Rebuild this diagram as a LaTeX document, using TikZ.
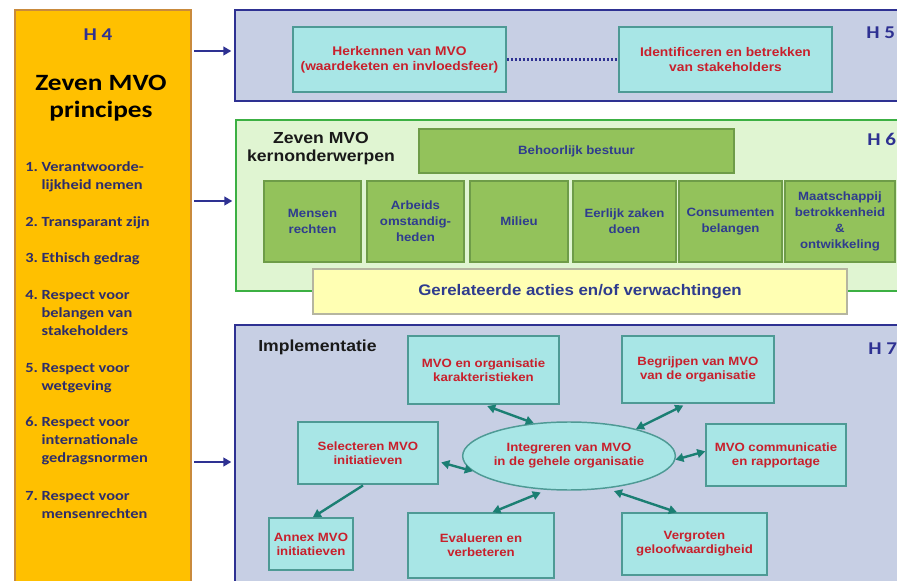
\documentclass[tikz,border=0pt]{standalone}
\usepackage{fontspec}
\setmainfont{Liberation Sans}[FakeStretch=1.1]
\newfontfamily\calfont{Carlito}[FakeStretch=1.17]
\usetikzlibrary{shapes.geometric,arrows.meta}

\definecolor{hfour}{HTML}{FFC000}
\definecolor{hfourline}{HTML}{C98A3C}
\definecolor{mvonavy}{HTML}{2E3192}
\definecolor{bluefill}{HTML}{C7CFE4}
\definecolor{greenfill}{HTML}{E0F5D2}
\definecolor{greenline}{HTML}{3CB043}
\definecolor{olivefill}{HTML}{93C25B}
\definecolor{oliveline}{HTML}{6E9C48}
\definecolor{cyanfill}{HTML}{A8E6E6}
\definecolor{cyanline}{HTML}{4E9A95}
\definecolor{redtxt}{HTML}{C8202C}
\definecolor{mvoteal}{HTML}{1B7F73}
\definecolor{yellowfill}{HTML}{FFFFB3}
\definecolor{yellowline}{HTML}{B5B5A0}
\definecolor{inktxt}{HTML}{2D2D6B}
\definecolor{bluetxt}{HTML}{2F3C8E}

\tikzset{
  chapterbox/.style={draw, line width=1.5pt, inner sep=0pt},
  pxsize/.style 2 args={minimum width=#1*0.75pt, minimum height=#2*0.75pt},
  cyanbox/.style={draw=cyanline, fill=cyanfill, line width=1.1pt, inner sep=0pt,
    align=center, text=redtxt, font=\bfseries\fontsize{9}{10.5}\selectfont},
  greenbox/.style={draw=oliveline, fill=olivefill, line width=1.1pt, inner sep=0pt,
    align=center, text=bluetxt, font=\bfseries\fontsize{9}{12}\selectfont},
  yellowbox/.style={draw=yellowline, fill=yellowfill, line width=1.1pt, inner sep=0pt,
    text=bluetxt, font=\bfseries\fontsize{11.5}{13}\selectfont},
  hlabel/.style={anchor=west, inner sep=0pt, text=mvonavy,
    font=\calfont\bfseries\fontsize{13.5}{15}\selectfont},
  heading/.style={align=center, inner sep=0pt, text=black!90,
    font=\bfseries\fontsize{12}{13.5}\selectfont},
  listitem/.style={anchor=north west, inner sep=0pt, text=inktxt,
    font=\calfont\bfseries\fontsize{10.5}{13.5}\selectfont},
  navyarrow/.style={draw=mvonavy, line width=1.8pt, >={Triangle[width=6.5pt,length=6pt]}, ->},
  linkarrow/.style={draw=mvoteal, line width=1.8pt, >={Triangle[width=6.5pt,length=6pt]}, <->},
  dotline/.style={draw=mvonavy, line width=2pt, dash pattern=on 1.6pt off 1.4pt}
}

\begin{document}
\begin{tikzpicture}[x=0.75pt,y=-0.75pt]
\clip (0,0) rectangle (897,581);

%% chapter frames
\node[chapterbox, draw=hfourline, line width=1.2pt, fill=hfour, pxsize={176}{600}] (h4) at (103,310) {};
\node[chapterbox, draw=mvonavy, fill=bluefill, pxsize={680}{91}] (h5) at (575,55.5) {};
\node[chapterbox, draw=greenline, fill=greenfill, pxsize={680}{171}] (h6) at (576,205.5) {};
\node[chapterbox, draw=mvonavy, fill=bluefill, pxsize={680}{285}] (h7) at (575,467.5) {};

%% chapter labels
\node[hlabel, anchor=center] (h4lab) at (98,35) {H 4};
\node[hlabel] (h5lab) at (866,33) {H 5};
\node[hlabel] (h6lab) at (867,139) {H 6};
\node[hlabel] (h7lab) at (868,349) {H 7};

%% H4: principes
\node[align=center, inner sep=0pt, font=\calfont\bfseries\fontsize{17.5}{20}\selectfont] (h4title) at (101,98) {Zeven MVO\\principes};
\node[listitem] (p1) at (25,159) {\begin{tabular}{@{}l@{\ }l@{}}1. & Verantwoorde-\\ & lijkheid nemen\end{tabular}};
\node[listitem] (p2) at (25,214) {\begin{tabular}{@{}l@{\ }l@{}}2. & Transparant zijn\end{tabular}};
\node[listitem] (p3) at (25,250) {\begin{tabular}{@{}l@{\ }l@{}}3. & Ethisch gedrag\end{tabular}};
\node[listitem] (p4) at (25,287) {\begin{tabular}{@{}l@{\ }l@{}}4. & Respect voor\\ & belangen van\\ & stakeholders\end{tabular}};
\node[listitem] (p5) at (25,360) {\begin{tabular}{@{}l@{\ }l@{}}5. & Respect voor\\ & wetgeving\end{tabular}};
\node[listitem] (p6) at (25,414) {\begin{tabular}{@{}l@{\ }l@{}}6. & Respect voor\\ & internationale\\ & gedragsnormen\end{tabular}};
\node[listitem] (p7) at (25,488) {\begin{tabular}{@{}l@{\ }l@{}}7. & Respect voor\\ & mensenrechten\end{tabular}};

%% arrows out of H4
\draw[navyarrow, shorten <=2pt, shorten >=2pt] (h4.east |- 0,51) -- (h5.west |- 0,51);
\draw[navyarrow, shorten <=2pt, shorten >=2pt] (h4.east |- 0,201) -- (h6.west |- 0,201);
\draw[navyarrow, shorten <=2pt, shorten >=2pt] (h4.east |- 0,462) -- (h7.west |- 0,462);

%% H5
\node[cyanbox, pxsize={213}{65}, font=\bfseries\fontsize{9.4}{11.25}\selectfont] (herk) at (399.5,59.5) {Herkennen van MVO\\(waardeketen en invloedsfeer)};
\node[cyanbox, pxsize={213}{65}, font=\bfseries\fontsize{9.4}{11.25}\selectfont] (ident) at (725.5,59.5) {Identificeren en betrekken\\van stakeholders};
\draw[dotline] (herk) -- (ident);

%% H6: kernonderwerpen
\node[heading] (kern) at (321,149) {Zeven MVO\\kernonderwerpen};
\node[greenbox, pxsize={315}{44}] (bestuur) at (576.5,151) {Behoorlijk bestuur};
\foreach \nm/\cx/\w/\txt in {mensen/312.5/97/{Mensen\\rechten},
    arbeid/415.5/97/{Arbeids\\omstandig-\\heden},
    milieu/519/98/{Milieu},
    eerlijk/624.5/103/{Eerlijk zaken\\doen},
    consument/730.5/103/{Consumenten\\belangen},
    maatsch/840/110/{Maatschappij\\betrokkenheid\\\&\\ontwikkeling}}
  \node[greenbox, pxsize={\w}{81}] (\nm) at (\cx,221.5) {\txt};
\node[yellowbox, pxsize={534}{45}] (acties) at (580,291.5) {Gerelateerde acties en/of verwachtingen};

%% H7: implementatie
\node[heading, anchor=west] (impl) at (258,347) {Implementatie};
\node[ellipse, draw=cyanline, fill=cyanfill, line width=1.1pt, inner sep=0pt, pxsize={190}{68},
  align=center, text=redtxt, font=\bfseries\fontsize{9}{10.5}\selectfont] (integr) at (569,456) {Integreren van MVO\\in de gehele organisatie};
\node[cyanbox, pxsize={151}{68}] (mvoorg) at (483.5,370) {MVO en organisatie\\karakteristieken};
\node[cyanbox, pxsize={152}{67}] (begrip) at (698,369.5) {Begrijpen van MVO\\van de organisatie};
\node[cyanbox, pxsize={140}{62}] (select) at (368,453) {Selecteren MVO\\initiatieven};
\node[cyanbox, pxsize={140}{62}] (commun) at (776,455) {MVO communicatie\\en rapportage};
\node[cyanbox, pxsize={84}{52}] (annex) at (311,544) {Annex MVO\\initiatieven};
\node[cyanbox, pxsize={146}{65}] (evalu) at (481,545.5) {Evalueren en\\verbeteren};
\node[cyanbox, pxsize={145}{62}] (vergr) at (694.5,544) {Vergroten\\geloofwaardigheid};

%% links round the ellipse
\draw[linkarrow, shorten <=3pt] (mvoorg.south) -- (integr.137);
\draw[linkarrow, shorten <=3pt] (begrip.-108) -- (integr.22);
\draw[linkarrow] (integr.-2) -- (commun.177);
\draw[linkarrow, shorten <=2pt] (select.-7) -- (integr.189);
\draw[linkarrow, shorten <=5pt] (integr.237) -- (evalu.71);
\draw[linkarrow, shorten <=6pt] (integr.-41) -- (vergr.119);
\draw[linkarrow, <-, shorten >=1pt] (annex.86) -- (select.-97);

\end{tikzpicture}
\end{document}
